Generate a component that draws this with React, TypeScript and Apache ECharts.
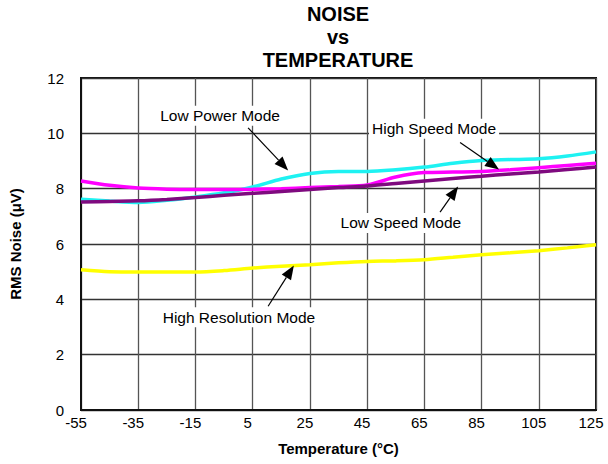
import React, { useEffect, useRef } from "react";
import * as echarts from "echarts";

const temps = [-55, -45, -35, -25, -15, -5, 5, 15, 25, 35, 45, 55, 65, 75, 85, 95, 105, 115, 125];
const lowPower = [7.62, 7.55, 7.5, 7.58, 7.7, 7.85, 8.06, 8.35, 8.55, 8.62, 8.62, 8.68, 8.78, 8.92, 9.02, 9.05, 9.08, 9.18, 9.33];
const highSpeed = [8.28, 8.12, 8.02, 7.98, 7.97, 7.97, 7.98, 8.0, 8.04, 8.08, 8.13, 8.42, 8.58, 8.6, 8.62, 8.68, 8.76, 8.84, 8.92];
const lowSpeed = [7.52, 7.54, 7.56, 7.61, 7.68, 7.76, 7.83, 7.9, 7.97, 8.04, 8.1, 8.19, 8.28, 8.37, 8.45, 8.53, 8.6, 8.69, 8.78];
const highRes = [5.07, 5.0, 4.99, 4.99, 4.99, 5.04, 5.13, 5.2, 5.25, 5.32, 5.37, 5.39, 5.43, 5.52, 5.61, 5.68, 5.76, 5.86, 5.97];

const X_MIN = -55;
const X_MAX = 125;

// annotations in data coordinates: label, text position, arrow start, arrow tip
const annotations = [
  { text: "Low Power Mode", label: [-6.4, 10.64], from: [3.4, 10.2], to: [17.4, 8.66] },
  { text: "High Speed Mode", label: [68.4, 10.17], from: [77.5, 9.67], to: [91.1, 8.69] },
  { text: "Low Speed Mode", label: [56.8, 6.76], from: [70.5, 7.15], to: [76.8, 8.08] },
  { text: "High Resolution Mode", label: [0.2, 3.35], from: [10.4, 3.75], to: [19.4, 5.22] },
];

const FONT = "'Liberation Sans', Arial, sans-serif";

export default function App() {
  const ref = useRef<HTMLDivElement>(null);
  useEffect(() => {
    if (!ref.current) return;
    const chart = echarts.init(ref.current, undefined, { renderer: "svg" });
    const mk = (vals: number[]) => temps.map((t, i) => [t - X_MIN, vals[i]]);
    const line = (name: string, vals: number[], color: string, z: number) => ({
      name,
      type: "line",
      data: mk(vals),
      smooth: 0.3,
      showSymbol: false,
      symbol: "none",
      z,
      lineStyle: { color, width: 3.5 },
    });
    chart.setOption({
      animation: false,
      backgroundColor: "#fff",
      textStyle: { fontFamily: FONT },
      grid: {
        left: 81,
        right: 12,
        top: 78,
        bottom: 54,
        show: true,
        borderColor: "#111",
        borderWidth: 2,
        backgroundColor: "transparent",
      },
      xAxis: {
        type: "value",
        min: 0,
        max: X_MAX - X_MIN,
        interval: 20,
        name: "Temperature (°C)",
        nameLocation: "middle",
        nameGap: 31,
        nameTextStyle: { fontFamily: FONT, fontWeight: "bold", fontSize: 15, color: "#000" },
        axisLine: { show: true, lineStyle: { color: "#111", width: 2 } },
        axisTick: { show: false },
        axisLabel: {
          fontFamily: FONT,
          fontSize: 15,
          color: "#000",
          margin: 5,
          padding: [0, 10, 0, 0],
          formatter: (v: number) => String(v + X_MIN),
        },
        splitLine: { show: true, lineStyle: { color: "#555", width: 1.3 } },
      },
      yAxis: {
        type: "value",
        min: 0,
        max: 12,
        interval: 2,
        name: "RMS Noise (μV)",
        nameLocation: "middle",
        nameGap: 58,
        nameTextStyle: { fontFamily: FONT, fontWeight: "bold", fontSize: 15, color: "#000" },
        axisLine: { show: true, lineStyle: { color: "#111", width: 2 } },
        axisTick: { show: false },
        axisLabel: { fontFamily: FONT, fontSize: 15, color: "#000", margin: 17, padding: [4, 0, 0, 0] },
        splitLine: { show: true, lineStyle: { color: "#333", width: 1.3 } },
      },
      series: [
        line("High Resolution Mode", highRes, "#FFFF00", 2),
        line("Low Power Mode", lowPower, "#1EF2F2", 3),
        line("High Speed Mode", highSpeed, "#FF00FF", 4),
        line("Low Speed Mode", lowSpeed, "#7F0A7F", 5),
      ],
    });

    const toPx = (p: number[]) =>
      chart.convertToPixel({ gridIndex: 0 }, [p[0] - X_MIN, p[1]]) as number[];

    const elements: any[] = [
      {
        type: "text",
        x: 338,
        y: 2,
        style: {
          text: "NOISE\nvs\nTEMPERATURE",
          textAlign: "center",
          textVerticalAlign: "top",
          font: `bold 20px ${FONT}`,
          lineHeight: 23,
          fill: "#000",
        },
      },
    ];
    annotations.forEach((a) => {
      const lp = toPx(a.label);
      const f = toPx(a.from);
      const t = toPx(a.to);
      const dx = t[0] - f[0];
      const dy = t[1] - f[1];
      const len = Math.sqrt(dx * dx + dy * dy);
      const ux = dx / len;
      const uy = dy / len;
      const hl = 14;
      const hw = 5.5;
      const bx = t[0] - ux * hl;
      const by = t[1] - uy * hl;
      elements.push({
        type: "line",
        z: 50,
        shape: { x1: f[0], y1: f[1], x2: bx, y2: by },
        style: { stroke: "#000", lineWidth: 1.2 },
      });
      elements.push({
        type: "polygon",
        z: 50,
        shape: {
          points: [
            [t[0], t[1]],
            [bx - uy * hw, by + ux * hw],
            [bx + uy * hw, by - ux * hw],
          ],
        },
        style: { fill: "#000" },
      });
      elements.push({
        type: "text",
        z: 50,
        x: lp[0],
        y: lp[1],
        style: {
          text: a.text,
          textAlign: "center",
          textVerticalAlign: "middle",
          font: `15.5px ${FONT}`,
          fill: "#000",
          backgroundColor: "#fff",
          padding: [2, 3],
        },
      });
    });
    chart.setOption({ graphic: elements });

    return () => chart.dispose();
  }, []);
  return (
    <div
      ref={ref}
      style={{ position: "absolute", left: 0, top: 0, width: 608, height: 464 }}
    />
  );
}
